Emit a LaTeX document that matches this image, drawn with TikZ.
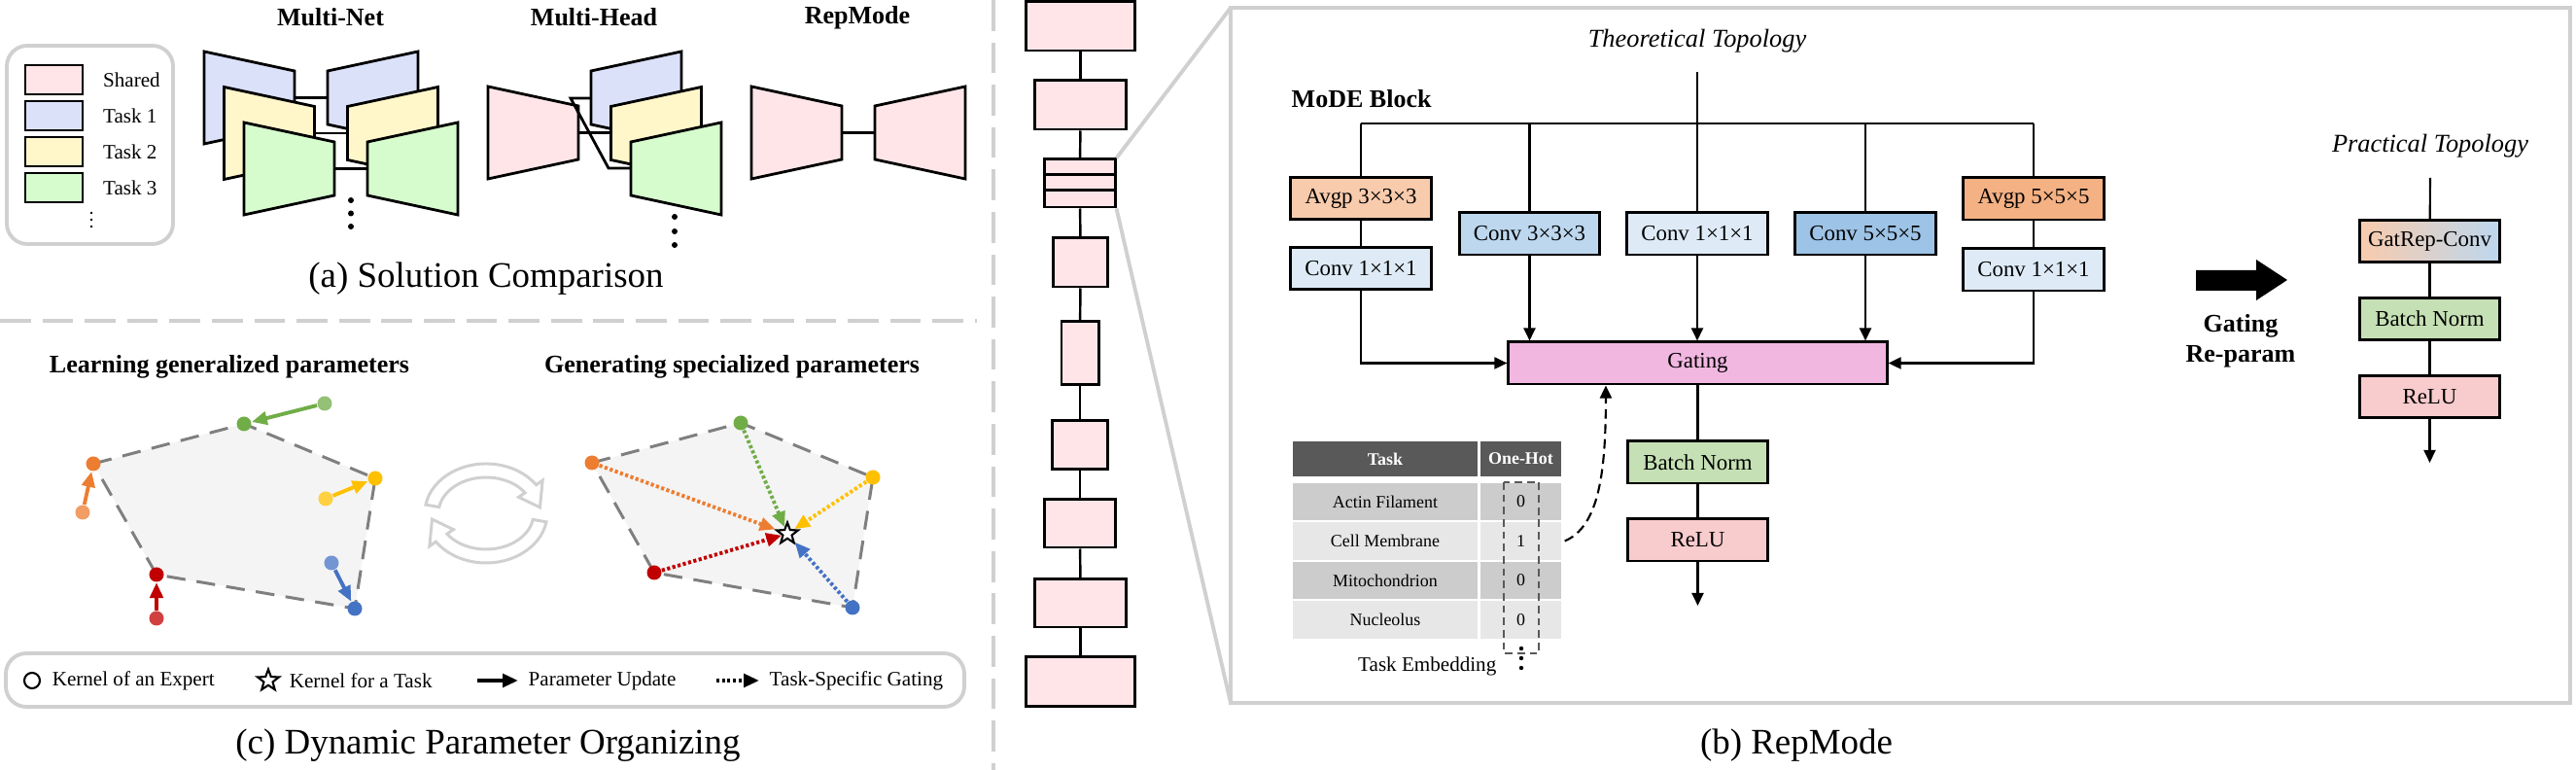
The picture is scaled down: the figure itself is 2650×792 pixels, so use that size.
\documentclass[tikz,border=0pt]{standalone}
\usepackage{fontspec}
\setmainfont{Liberation Serif}
\usepackage{tikz}
\usetikzlibrary{positioning}
\usetikzlibrary{arrows.meta}
\usetikzlibrary{shapes.geometric}

\definecolor{shared}{RGB}{255,229,232}
\definecolor{taska}{RGB}{220,225,250}
\definecolor{taskb}{RGB}{255,247,202}
\definecolor{taskc}{RGB}{214,252,206}
\definecolor{sepgray}{RGB}{208,208,208}
\definecolor{avgl}{RGB}{248,203,173}
\definecolor{avgd}{RGB}{244,177,131}
\definecolor{convl}{RGB}{222,235,247}
\definecolor{convm}{RGB}{189,215,238}
\definecolor{convd}{RGB}{157,195,230}
\definecolor{gate}{RGB}{241,183,225}
\definecolor{bnorm}{RGB}{197,224,180}
\definecolor{relu}{RGB}{248,203,205}
\definecolor{headgray}{RGB}{89,89,89}
\definecolor{rowd}{RGB}{204,204,204}
\definecolor{rowl}{RGB}{231,231,231}
\definecolor{hullfill}{RGB}{244,244,244}
\definecolor{hullline}{RGB}{127,127,127}
\definecolor{kor}{RGB}{237,125,49}
\definecolor{kgr}{RGB}{112,173,71}
\definecolor{kye}{RGB}{255,192,0}
\definecolor{kbl}{RGB}{68,114,196}
\definecolor{kre}{RGB}{192,0,0}

\begin{document}
\begin{tikzpicture}[x=0.01cm, y=-0.01cm,
    trap/.style={draw, line width=0.8pt},
    blk/.style={draw, rectangle, line width=0.85pt, minimum width=1.44cm, minimum height=0.43cm, inner sep=0pt, font=\fontsize{6.5}{7.8}\selectfont},
    bone/.style={draw, rectangle, line width=0.85pt, fill=shared, inner sep=0pt, minimum height=0.5cm},
    wire/.style={line width=0.6pt},
    flow/.style={wire, -{Triangle[length=3.7pt, width=3.4pt]}},
    sepline/.style={draw=sepgray, line width=1.1pt, dash pattern=on 9pt off 3.4pt},
    frame/.style={draw=sepgray, line width=1.1pt},
    ttl/.style={font=\fontsize{7.4}{8.9}\selectfont\bfseries, inner sep=0pt},
    topo/.style={font=\fontsize{7.5}{9}\selectfont\itshape, inner sep=0pt},
    subcap/.style={font=\fontsize{10.5}{12.6}\selectfont, inner sep=0pt},
    lgd/.style={font=\fontsize{6}{7.2}\selectfont, anchor=west, inner sep=0pt},
    cell/.style={rectangle, inner sep=0pt, minimum height=0.38cm, font=\fontsize{5.1}{6.1}\selectfont},
    thd/.style={cell, fill=headgray, text=white, minimum height=0.36cm, font=\fontsize{5.1}{6.1}\selectfont\bfseries},
    kdot/.style={circle, inner sep=0pt, minimum size=0.15cm},
    kstar/.style={star, star points=5, star point ratio=2.4, draw, fill=white, line width=0.6pt, inner sep=0pt, minimum size=0.23cm},
    hullpoly/.style={fill=hullfill, draw=hullline, line width=0.85pt, dash pattern=on 5.5pt off 3.3pt},
    upd/.style={line width=1.1pt, -{Triangle[length=4.5pt, width=3.8pt]}},
    tsg/.style={line width=1.1pt, dash pattern=on 0.9pt off 0.7pt, -{Triangle[length=4.5pt, width=3.8pt]}},
    cyc/.style={draw=sepgray, fill=white, line width=0.85pt}
]
\useasboundingbox (0,0) rectangle (2650,792);

% (a) Solution Comparison
\draw[frame, rounded corners=6pt] (7,47) rectangle (178,251);
\node[draw, line width=0.8pt, fill=shared, minimum width=0.59cm, minimum height=0.3cm, inner sep=0pt] (swsh) at (55.5,82) {};
\node[draw, line width=0.8pt, fill=taska, minimum width=0.59cm, minimum height=0.3cm, inner sep=0pt] (swt1) at (55.5,119) {};
\node[draw, line width=0.8pt, fill=taskb, minimum width=0.59cm, minimum height=0.3cm, inner sep=0pt] (swt2) at (55.5,156) {};
\node[draw, line width=0.8pt, fill=taskc, minimum width=0.59cm, minimum height=0.3cm, inner sep=0pt] (swt3) at (55.5,193) {};
\node[lgd, right=0.19cm of swsh] (lsh) {Shared};
\node[lgd, right=0.19cm of swt1] (lt1) {Task 1};
\node[lgd, right=0.19cm of swt2] (lt2) {Task 2};
\node[lgd, right=0.19cm of swt3] (lt3) {Task 3};
\foreach \y in {219,226,233} \fill (94,\y) circle (1.4);

\node[ttl] (tnet) at (340,18) {Multi-Net};
\node[ttl] (thead) at (611,18) {Multi-Head};
\node[ttl] (trep) at (882,18) {RepMode};

\foreach \c [count=\i from 0] in {taska,taskb,taskc}{
  \draw[trap, fill=\c] ({210+20.5*\i},{53+36.5*\i}) -- ++(93,20) -- ++(0,55) -- ++(-93,20) -- cycle;
  \draw[trap, fill=\c] ({337+20.5*\i},{73+36.5*\i}) -- ++(93,-20) -- ++(0,95) -- ++(-93,-20) -- cycle;
  \draw[trap] ({303+20.5*\i},{100.5+36.5*\i}) -- ++(34,0);
}
\foreach \y in {206,219.5,233} \fill (361,\y) circle (3);

\draw[trap, fill=shared] (502,89) -- ++(93,20) -- ++(0,55) -- ++(-93,20) -- cycle;
\foreach \c [count=\i from 0] in {taska,taskb,taskc}
  \draw[trap, fill=\c] ({608+20.5*\i},{73+36.5*\i}) -- ++(93,-20) -- ++(0,95) -- ++(-93,-20) -- cycle;
\draw[trap] (595,136.5) -- (629,136.5);
\draw[trap] (608,101) -- (587,101) -- (626,173) -- (649,173);
\foreach \y in {223,238,252} \fill (694,\y) circle (3);

\draw[trap, fill=shared] (773,89) -- ++(93,20) -- ++(0,55) -- ++(-93,20) -- cycle;
\draw[trap, fill=shared] (900,109) -- ++(93,-20) -- ++(0,95) -- ++(-93,-20) -- cycle;
\draw[trap] (866,136.5) -- (900,136.5);

\node[subcap] (capa) at (500,287) {(a) Solution Comparison};

% Separators
\draw[sepline] (1022,0) -- (1022,792);
\draw[sepline] (0,330) -- (1005,330);

% (c) Dynamic Parameter Organizing
\node[ttl] (lgen) at (236,377) {Learning generalized parameters};
\node[ttl] (lspec) at (753,377) {Generating specialized parameters};

\coordinate (lo) at (96,477);
\coordinate (lg) at (251,436);
\coordinate (ly) at (386,492);
\coordinate (lb) at (365,626);
\coordinate (lr) at (161,591);
\draw[hullpoly] (lo) -- (lg) -- (ly) -- (lb) -- (lr) -- cycle;
\node[kdot, fill=kor] (nlo) at (lo) {};
\node[kdot, fill=kgr] (nlg) at (lg) {};
\node[kdot, fill=kye] (nly) at (ly) {};
\node[kdot, fill=kbl] (nlb) at (lb) {};
\node[kdot, fill=kre] (nlr) at (lr) {};
\node[kdot, fill=kor!75!white] (olo) at (85,527) {};
\node[kdot, fill=kgr!75!white] (olg) at (334,415) {};
\node[kdot, fill=kye!75!white] (oly) at (335,513) {};
\node[kdot, fill=kbl!75!white] (olb) at (341,579) {};
\node[kdot, fill=kre!75!white] (olr) at (161,636) {};
\draw[upd, kor] (olo) -- (nlo);
\draw[upd, kgr] (olg) -- (nlg);
\draw[upd, kye] (oly) -- (nly);
\draw[upd, kbl] (olb) -- (nlb);
\draw[upd, kre] (olr) -- (nlr);

\begin{scope}[shift={(500,528)}, yscale=-1]
  \draw[cyc] (170:63 and 51) arc[start angle=170, end angle=35, x radius=63, y radius=51] -- (35:71 and 59) -- (8:56 and 44) -- (35:41 and 29) -- (35:49 and 37) arc[start angle=35, end angle=170, x radius=49, y radius=37] -- cycle;
  \draw[cyc] (350:63 and 51) arc[start angle=350, end angle=215, x radius=63, y radius=51] -- (215:71 and 59) -- (188:56 and 44) -- (215:41 and 29) -- (215:49 and 37) arc[start angle=215, end angle=350, x radius=49, y radius=37] -- cycle;
\end{scope}

\coordinate (ro) at (609,476);
\coordinate (rg) at (762,435);
\coordinate (ry) at (898,491);
\coordinate (rb) at (877,625);
\coordinate (rr) at (673,589);
\draw[hullpoly] (ro) -- (rg) -- (ry) -- (rb) -- (rr) -- cycle;
\node[kstar] (tkern) at (810,549) {};
\node[kdot, fill=kor] (nro) at (ro) {};
\node[kdot, fill=kgr] (nrg) at (rg) {};
\node[kdot, fill=kye] (nry) at (ry) {};
\node[kdot, fill=kbl] (nrb) at (rb) {};
\node[kdot, fill=kre] (nrr) at (rr) {};
\draw[tsg, kor] (nro) -- (tkern);
\draw[tsg, kgr] (nrg) -- (tkern);
\draw[tsg, kye] (nry) -- (tkern);
\draw[tsg, kbl] (nrb) -- (tkern);
\draw[tsg, kre] (nrr) -- (tkern);

\draw[frame, rounded corners=6pt] (6,672) rectangle (992,727);
\node[draw, circle, line width=0.6pt, inner sep=0pt, minimum size=0.16cm] (kexp) at (33,700) {};
\node[lgd, right=0.11cm of kexp] (lkexp) {Kernel of an Expert};
\node[kstar] (ktask) at (276,700) {};
\node[lgd, right=0.13cm of ktask] (lktask) {Kernel for a Task};
\coordinate (pu0) at (491,700);
\coordinate (pu1) at (533,700);
\draw[upd] (pu0) -- (pu1);
\node[lgd] (lpu) at (543,700) {Parameter Update};
\coordinate (ts0) at (737,700);
\coordinate (ts1) at (781,700);
\draw[tsg] (ts0) -- (ts1);
\node[lgd] (lts) at (791,700) {Task-Specific Gating};

\node[subcap] (capc) at (502,767) {(c) Dynamic Parameter Organizing};

% (b) RepMode - backbone
\node[bone, minimum width=1.11cm] (b1) at (1111.5,27) {};
\node[bone, minimum width=0.93cm] (b2) at (1111.5,108) {};
\node[bone, minimum width=0.72cm, minimum height=0.49cm] (b3) at (1111,188.5) {};
\node[bone, minimum width=0.55cm] (b4) at (1111.5,270) {};
\node[bone, minimum width=0.38cm, minimum height=0.64cm] (b5) at (1111,363) {};
\node[bone, minimum width=0.56cm] (b6) at (1111,457.5) {};
\node[bone, minimum width=0.72cm, minimum height=0.49cm] (b7) at (1111,538.5) {};
\node[bone, minimum width=0.93cm, minimum height=0.49cm] (b8) at (1111.5,620.5) {};
\node[bone, minimum width=1.11cm] (b9) at (1111.5,701) {};
\draw[line width=0.7pt] ([yshift=-0.17cm]b3.north west) -- ([yshift=-0.17cm]b3.north east);
\draw[line width=0.7pt] ([yshift=-0.33cm]b3.north west) -- ([yshift=-0.33cm]b3.north east);
\draw[line width=0.7pt] (b1) -- (b2);
\draw[line width=0.7pt] (b2) -- (b3);
\draw[line width=0.7pt] (b3) -- (b4);
\draw[line width=0.7pt] (b4) -- (b5);
\draw[line width=0.7pt] (b5) -- (b6);
\draw[line width=0.7pt] (b6) -- (b7);
\draw[line width=0.7pt] (b7) -- (b8);
\draw[line width=0.7pt] (b8) -- (b9);

% Zoomed frame
\coordinate (fnw) at (1266,8);
\coordinate (fse) at (2644,723);
\draw[frame] (fnw) rectangle (fse);
\draw[frame] (b3.north east) -- (fnw);
\draw[frame] (b3.south east) -- (fnw |- fse);

% Theoretical topology
\node[topo] (ttopo) at (1746,42) {Theoretical Topology};
\node[ttl, anchor=west] (mode) at (1328,102) {MoDE Block};

\node[blk, fill=avgl] (avg3) at (1400,204) {Avgp 3×3×3};
\node[blk, fill=convl] (c1l) at (1400,276) {Conv 1×1×1};
\node[blk, fill=convm] (c3) at (1573.5,240.5) {Conv 3×3×3};
\node[blk, fill=convl] (c1m) at (1746,240.5) {Conv 1×1×1};
\node[blk, fill=convd] (c5) at (1919,240.5) {Conv 5×5×5};
\node[blk, fill=avgd] (avg5) at (2092,204.5) {Avgp 5×5×5};
\node[blk, fill=convl] (c1r) at (2092,277.5) {Conv 1×1×1};
\node[blk, fill=gate, minimum width=3.89cm] (gating) at (1746.5,373.5) {Gating};
\node[blk, fill=bnorm, minimum width=1.43cm] (bn) at (1746.5,475.5) {Batch Norm};
\node[blk, fill=relu, minimum width=1.43cm] (rl) at (1746.5,555.5) {ReLU};

\coordinate (tin) at (1746,74);
\coordinate (busl) at (1400,127);
\coordinate (busr) at (2092,127);
\coordinate (tout) at (1746.5,623);
\draw[wire] (tin) -- (tin |- busl);
\draw[wire] (busl) -- (busr);
\draw[wire] (busl) -- (avg3);
\draw[wire] (avg3) -- (c1l);
\draw[flow] (c1l) |- (gating);
\draw[wire] (c3 |- busl) -- (c3);
\draw[flow] (c3) -- (c3 |- gating.north);
\draw[wire] (tin |- busl) -- (c1m);
\draw[flow] (c1m) -- (c1m |- gating.north);
\draw[wire] (c5 |- busl) -- (c5);
\draw[flow] (c5) -- (c5 |- gating.north);
\draw[wire] (busr) -- (avg5);
\draw[wire] (avg5) -- (c1r);
\draw[flow] (c1r) |- (gating);
\draw[wire] (gating) -- (bn);
\draw[wire] (bn) -- (rl);
\draw[flow] (rl) -- (tout);

% Task table
\node[thd, minimum width=1.9cm] (htask) at (1425,472) {Task};
\node[thd, minimum width=0.83cm] (hoh) at (1564.5,472) {One-Hot};
\node[cell, fill=rowd, minimum width=1.9cm] (task1) at (1425,516) {Actin Filament};
\node[cell, fill=rowd, minimum width=0.83cm] (oh1) at (1564.5,516) {0};
\node[cell, fill=rowl, minimum width=1.9cm] (task2) at (1425,556.5) {Cell Membrane};
\node[cell, fill=rowl, minimum width=0.83cm] (oh2) at (1564.5,556.5) {1};
\node[cell, fill=rowd, minimum width=1.9cm] (task3) at (1425,597) {Mitochondrion};
\node[cell, fill=rowd, minimum width=0.83cm] (oh3) at (1564.5,597) {0};
\node[cell, fill=rowl, minimum width=1.9cm] (task4) at (1425,637.5) {Nucleolus};
\node[cell, fill=rowl, minimum width=0.83cm] (oh4) at (1564.5,637.5) {0};
\draw[draw=headgray, line width=0.45pt, dash pattern=on 2.2pt off 1.4pt] (1547,496) rectangle (1583,672);
\foreach \y in {667,677,687} \fill (1565,\y) circle (2.2);
\node[font=\fontsize{6}{7.2}\selectfont, anchor=east, inner sep=0pt] (temb) at (1540,685) {Task Embedding};
\draw[wire, dash pattern=on 2.8pt off 1.6pt, -{Triangle[length=3.7pt, width=3.4pt]}] ([xshift=0.03cm]oh2.east) .. controls +(0.35cm,0.15cm) and +(0,-0.9cm) .. ([xshift=-0.945cm]gating.south);

% Gating re-param
\fill (2259,278) -- (2321,278) -- (2321,267) -- (2353,288) -- (2321,309) -- (2321,299) -- (2259,299) -- cycle;
\node[ttl] (grp) at (2305,335) {Gating};
\node[ttl] (grp2) at (2305,367) {Re-param};

% Practical topology
\node[topo] (ptopo) at (2500,150) {Practical Topology};
\coordinate (pin) at (2500,183);
\node[blk, left color=avgl, right color=convm, minimum width=1.43cm] (grc) at (2499.5,248) {GatRep-Conv};
\node[blk, fill=bnorm, minimum width=1.43cm] (pbn) at (2499.5,328) {Batch Norm};
\node[blk, fill=relu, minimum width=1.43cm] (prl) at (2499.5,408) {ReLU};
\coordinate (pout) at (2499.5,476);
\draw[wire] (pin) -- (grc);
\draw[wire] (grc) -- (pbn);
\draw[wire] (pbn) -- (prl);
\draw[flow] (prl) -- (pout);

\node[subcap] (capb) at (1848,767) {(b) RepMode};

\end{tikzpicture}
\end{document}
